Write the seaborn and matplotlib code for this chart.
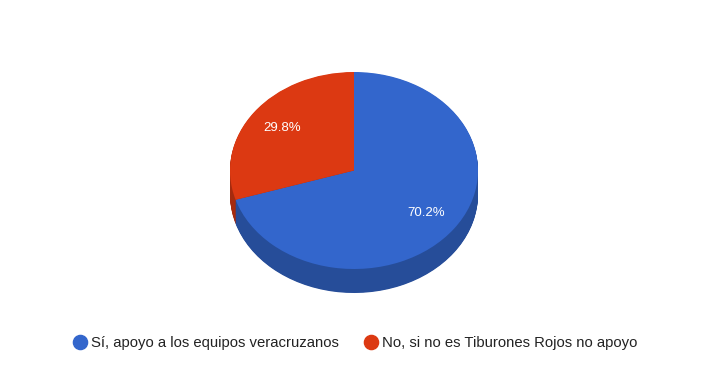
import matplotlib
matplotlib.use("Agg")
import matplotlib.pyplot as plt
from matplotlib.lines import Line2D
import seaborn as sns

categories = ["Sí, apoyo a los equipos veracruzanos", "No, si no es Tiburones Rojos no apoyo"]
values = [70.2, 29.8]
top_colors = ["#3366cc", "#dc3912"]
side_colors = ["#264d99", "#a52b0e"]

sns.set_theme(style="white")
plt.rcParams["font.family"] = ["Liberation Sans", "DejaVu Sans"]

W, H = 714, 373
fig = plt.figure(figsize=(W / 100, H / 100), dpi=100)
fig.patch.set_facecolor("white")

# pie axes: x -1..1 -> 230..478 px, y -1..1 -> 269..72 px (top ellipse)
cx_l, cx_r = 230, 478
cy_t, cy_b = 72, 269
ax = fig.add_axes([cx_l / W, (H - cy_b) / H, (cx_r - cx_l) / W, (cy_b - cy_t) / H])
ry_px = (cy_b - cy_t) / 2
depth = 24 / ry_px

n_layers = 40
for i in range(n_layers, 0, -1):
    off = depth * i / n_layers
    wedges, _ = ax.pie(values, startangle=90, counterclock=False, colors=side_colors,
                       center=(0, -off), radius=1,
                       wedgeprops=dict(linewidth=0, antialiased=True))
    for w in wedges:
        w.set_clip_on(False)

wedges, texts, autotexts = ax.pie(values, startangle=90, counterclock=False, colors=top_colors,
                                  center=(0, 0), radius=1, autopct="%.1f%%", pctdistance=0.72,
                                  wedgeprops=dict(linewidth=0, antialiased=True),
                                  textprops=dict(color="white", fontsize=9.5))
for w in wedges:
    w.set_clip_on(False)
for t in autotexts:
    t.set_clip_on(False)

ax.set_aspect("auto")
ax.set_xlim(-1, 1)
ax.set_ylim(-1, 1)
ax.axis("off")

handles = [Line2D([0], [0], marker="o", linestyle="", markersize=10.2,
                  markerfacecolor=c, markeredgecolor=c) for c in top_colors]
fig.legend(handles, categories, ncol=2, loc="center",
           bbox_to_anchor=(354 / W, 1 - 343 / H), frameon=False,
           handletextpad=0.15, columnspacing=1.55, handlelength=1.2,
           prop=dict(size=10.7), labelcolor="#222222")

fig.savefig("out.png", dpi=100, facecolor="white")
